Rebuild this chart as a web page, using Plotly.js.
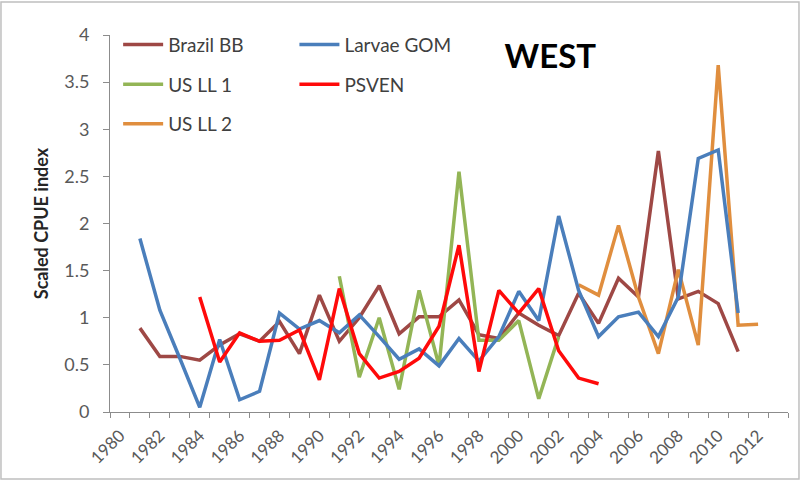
<!DOCTYPE html>
<html>
<head>
<meta charset="utf-8">
<script src="https://cdn.plot.ly/plotly-3.0.1.min.js"></script>
<style>html,body{margin:0;padding:0;background:#fff;}#chart{width:801px;height:481px;}</style>
</head>
<body>
<div id="chart"></div>
<script>
const years = [1980,1981,1982,1983,1984,1985,1986,1987,1988,1989,1990,1991,1992,1993,1994,1995,1996,1997,1998,1999,2000,2001,2002,2003,2004,2005,2006,2007,2008,2009,2010,2011,2012,2013];
const brazilBB = [null,0.89,0.59,0.59,0.55,0.71,0.83,0.75,0.96,0.62,1.24,0.75,1.0,1.34,0.83,1.01,1.01,1.19,0.82,0.78,1.05,0.92,0.81,1.26,0.94,1.42,1.22,2.77,1.2,1.28,1.15,0.64,null,null];
const larvaeGOM = [null,1.84,1.08,0.57,0.05,0.77,0.13,0.22,1.05,0.88,0.97,0.84,1.03,0.8,0.56,0.67,0.49,0.78,0.54,0.8,1.28,0.97,2.08,1.29,0.8,1.01,1.06,0.8,1.22,2.69,2.78,1.05,null,null];
const usLL1 = [null,null,null,null,null,null,null,null,null,null,null,1.44,0.37,1.0,0.24,1.29,0.49,2.55,0.76,0.76,0.97,0.14,0.8,null,null,null,null,null,null,null,null,null,null,null];
const psven = [null,null,null,null,1.22,0.53,0.84,0.75,0.76,0.87,0.34,1.31,0.62,0.36,0.43,0.57,0.91,1.77,0.43,1.29,1.05,1.31,0.65,0.36,0.30,null,null,null,null,null,null,null,null,null];
const usLL2 = [null,null,null,null,null,null,null,null,null,null,null,null,null,null,null,null,null,null,null,null,null,null,null,1.35,1.24,1.98,1.22,0.62,1.51,0.71,3.68,0.92,0.93,null];
const xTickVals = [1980,1982,1984,1986,1988,1990,1992,1994,1996,1998,2000,2002,2004,2006,2008,2010,2012];
const xTickText = ['1980','1982','1984','1986','1988','1990','1992','1994','1996','1998','2000','2002','2004','2006','2008','2010','2012'];
const yTickVals = [0,0.5,1,1.5,2,2.5,3,3.5,4];
const yTickText = ['0','0.5','1','1.5','2','2.5','3','3.5','4'];

const FONT = 'Lato, "Open Sans", sans-serif';
function tr(name, y, color, legend, group) {
  return {type:'scatter', mode:'lines', x:years, y:y, name:name, legend:legend, legendgroup:group,
          line:{color:color, width:3.5}, connectgaps:false, hoverinfo:'skip'};
}
const data = [
  tr('Brazil BB', brazilBB, '#9E4845', 'legend', 'a'),
  tr('US LL 1', usLL1, '#93B556', 'legend', 'b'),
  tr('US LL 2', usLL2, '#E08E3E', 'legend', 'c'),
  tr('Larvae GOM', larvaeGOM, '#4A7EBB', 'legend2', 'd'),
  tr('PSVEN', psven, '#FF0A0A', 'legend2', 'e')
];
const legendFont = {family:FONT, size:19, color:'#404040'};
const layout = {
  width:801, height:481,
  margin:{l:110, r:13, t:35, b:69},
  paper_bgcolor:'#ffffff', plot_bgcolor:'#ffffff',
  font:{family:FONT, color:'#595959'},
  showlegend:true,
  title:{text:'<b>WEST</b>', font:{family:FONT, size:33, color:'#000000'}, x:0.687, xanchor:'center', xref:'container', y:0.882, yanchor:'middle', yref:'container'},
  legend:{x:0.012, xanchor:'left', y:1.025, yanchor:'top', orientation:'v', traceorder:'grouped', tracegroupgap:12,
          bgcolor:'rgba(0,0,0,0)', font:legendFont, itemwidth:40},
  legend2:{x:0.272, xanchor:'left', y:1.025, yanchor:'top', orientation:'v', traceorder:'grouped', tracegroupgap:12,
          bgcolor:'rgba(0,0,0,0)', font:legendFont, itemwidth:40},
  xaxis:{range:[1979.5, 2013.5], tickmode:'array', tickvals:xTickVals, ticktext:xTickText, tickangle:-45,
         ticks:'', showgrid:false, zeroline:false, showline:true, linecolor:'#8C8C8C', linewidth:1,
         ticklabelstandoff:6,
         tickfont:{family:FONT, size:17, color:'#595959'},
         minor:{tickmode:'linear', tick0:1979.5, dtick:1, ticks:'outside', ticklen:5, tickcolor:'#8C8C8C', showgrid:false}},
  yaxis:{range:[0,4], tickmode:'array', tickvals:yTickVals, ticktext:yTickText, ticks:'outside', ticklen:6, tickcolor:'#8C8C8C',
         showgrid:false, zeroline:false, showline:true, linecolor:'#8C8C8C', linewidth:1,
         ticklabelstandoff:10,
         tickfont:{family:FONT, size:18, color:'#595959'},
         title:{text:'<b>Scaled CPUE index</b>', font:{family:FONT, size:18, color:'#262626'}, standoff:10}},
  shapes:[{type:'rect', xref:'paper', yref:'paper', x0:-0.1608, x1:1.0162, y0:-0.1777, y1:1.0875, line:{color:'#BFBFBF', width:1.5}}]
};
Plotly.newPlot('chart', data, layout, {staticPlot:true});
</script>
</body>
</html>
